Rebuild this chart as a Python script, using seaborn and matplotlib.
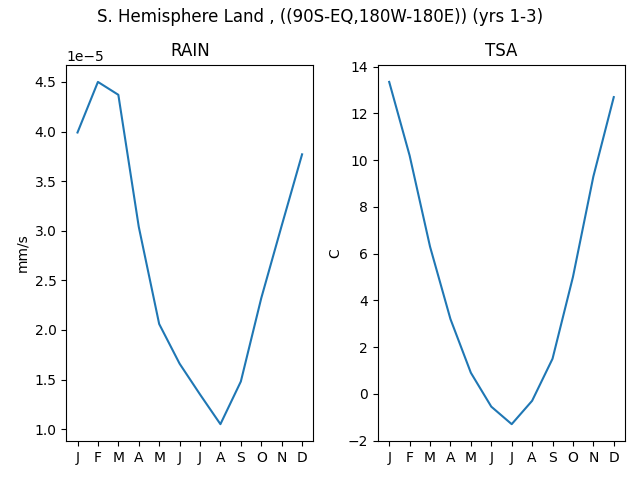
import matplotlib
matplotlib.use("Agg")
import matplotlib.pyplot as plt
import seaborn as sns
import pandas as pd

months = ["J", "F", "M", "A", "M", "J", "J", "A", "S", "O", "N", "D"]
rain = [3.99e-5, 4.50e-5, 4.37e-5, 3.04e-5, 2.06e-5, 1.66e-5, 1.35e-5, 1.05e-5, 1.48e-5, 2.32e-5, 3.05e-5, 3.77e-5]
tsa = [13.35, 10.2, 6.3, 3.2, 0.9, -0.55, -1.3, -0.3, 1.5, 5.0, 9.3, 12.7]

df = pd.DataFrame({"m": range(12), "rain": rain, "tsa": tsa})

fig, axes = plt.subplots(1, 2, figsize=(6.4, 4.8), dpi=100)
sns.lineplot(data=df, x="m", y="rain", ax=axes[0])
sns.lineplot(data=df, x="m", y="tsa", ax=axes[1])
axes[0].set_title("RAIN")
axes[0].set_ylabel("mm/s")
axes[1].set_title("TSA")
axes[1].set_ylabel("C")
for ax in axes:
    ax.set_xlabel("")
    ax.set_xticks(range(12))
    ax.set_xticklabels(months)
fig.suptitle("S. Hemisphere Land , ((90S-EQ,180W-180E)) (yrs 1-3)", y=0.984)
fig.tight_layout()
fig.subplots_adjust(top=0.865)
fig.savefig("out.png")
